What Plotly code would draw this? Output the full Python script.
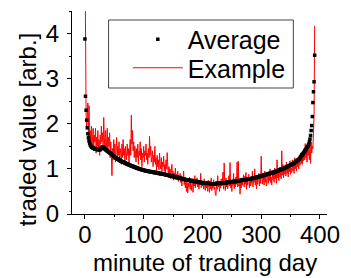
import plotly.graph_objects as go

# ---------------- data ----------------
average = [
    3.88, 2.61, 2.30, 2.08, 1.91, 1.78, 1.69, 1.62, 1.57, 1.53,
    1.51, 1.49, 1.48, 1.47, 1.46, 1.46, 1.45, 1.45, 1.44, 1.44,
    1.44, 1.43, 1.43, 1.43, 1.42, 1.42, 1.43, 1.44, 1.46, 1.48,
    1.49, 1.49, 1.48, 1.46, 1.44, 1.43, 1.42, 1.41, 1.40, 1.39,
    1.38,
    1.37, 1.36, 1.35, 1.34, 1.33, 1.32, 1.31, 1.30, 1.28, 1.27,
    1.26, 1.25, 1.24, 1.23, 1.22, 1.22, 1.21, 1.20, 1.19, 1.18,
    1.17, 1.17, 1.16, 1.16, 1.15, 1.15, 1.14, 1.13, 1.13, 1.12,
    1.11, 1.11, 1.10, 1.10, 1.09, 1.08, 1.08, 1.07, 1.07, 1.06,
    1.06, 1.05, 1.05, 1.04, 1.04, 1.03, 1.03, 1.02, 1.02, 1.01,
    1.01, 1.00, 1.00, 0.99, 0.99, 0.99, 0.98, 0.98, 0.97, 0.97,
    0.97, 0.96, 0.96, 0.96, 0.95, 0.95, 0.95, 0.95, 0.94, 0.94,
    0.94, 0.94, 0.93, 0.93, 0.93, 0.93, 0.92, 0.92, 0.92, 0.92,
    0.92, 0.91, 0.91, 0.91, 0.90, 0.90, 0.90, 0.90, 0.89, 0.89,
    0.89, 0.89, 0.88, 0.88, 0.88, 0.88, 0.87, 0.87, 0.87, 0.87,
    0.86, 0.86, 0.86, 0.85, 0.85, 0.85, 0.84, 0.84, 0.84, 0.83,
    0.83, 0.83, 0.82, 0.82, 0.82, 0.81, 0.81, 0.81, 0.80, 0.80,
    0.80, 0.79, 0.79, 0.79, 0.78, 0.78, 0.78, 0.77, 0.77, 0.77,
    0.76, 0.76, 0.76, 0.76, 0.75, 0.75, 0.75, 0.75, 0.74, 0.74,
    0.74, 0.74, 0.73, 0.73, 0.73, 0.73, 0.72, 0.72, 0.72, 0.72,
    0.71, 0.71, 0.71, 0.71, 0.70, 0.70, 0.70, 0.70, 0.69, 0.69,
    0.69, 0.69, 0.69, 0.69, 0.68, 0.68, 0.68, 0.68, 0.68, 0.68,
    0.68, 0.68, 0.67, 0.67, 0.67, 0.67, 0.67, 0.67, 0.67, 0.67,
    0.67, 0.67, 0.67, 0.68, 0.68, 0.68, 0.68, 0.68, 0.68, 0.68,
    0.68, 0.68, 0.69, 0.69, 0.69, 0.69, 0.69, 0.69, 0.69, 0.69,
    0.70, 0.70, 0.70, 0.70, 0.70, 0.71, 0.71, 0.71, 0.71, 0.71,
    0.71, 0.72, 0.72, 0.72, 0.72, 0.72, 0.73, 0.73, 0.73, 0.73,
    0.73, 0.74, 0.74, 0.74, 0.74, 0.75, 0.75, 0.75, 0.75, 0.75,
    0.76, 0.76, 0.76, 0.76, 0.76, 0.77, 0.77, 0.77, 0.77, 0.77,
    0.78, 0.78, 0.78, 0.79, 0.79, 0.79, 0.80, 0.80, 0.80, 0.81,
    0.81, 0.81, 0.82, 0.82, 0.82, 0.83, 0.83, 0.83, 0.84, 0.84,
    0.84, 0.85, 0.85, 0.86, 0.86, 0.86, 0.87, 0.87, 0.88, 0.88,
    0.88, 0.89, 0.89, 0.90, 0.90, 0.90, 0.91, 0.91, 0.92, 0.92,
    0.92, 0.93, 0.93, 0.94, 0.94, 0.95, 0.95, 0.96, 0.96, 0.97,
    0.97, 0.98, 0.98, 0.99, 0.99, 1.00, 1.00, 1.01, 1.01, 1.02,
    1.03, 1.03, 1.04, 1.05, 1.05, 1.06, 1.07, 1.07, 1.08, 1.09,
    1.09, 1.10, 1.11, 1.11, 1.12,
    1.13, 1.14, 1.15, 1.16, 1.17, 1.18, 1.19, 1.20, 1.21, 1.22,
    1.24, 1.26, 1.28, 1.30, 1.32, 1.33, 1.35, 1.37,
    1.39, 1.41, 1.43, 1.45, 1.47, 1.49, 1.52, 1.55,
    1.60, 1.66, 1.74, 1.85, 1.96, 2.16, 2.47, 2.71, 2.93, 3.52,
]

example = [
    6.00, 3.45, 2.20, 1.90, 2.35, 2.46, 1.70, 2.40, 1.60,
    1.85, 1.55, 1.95, 1.45, 1.80, 1.90, 1.40, 1.75, 1.60, 1.90, 1.35, 1.70,
    1.50, 1.85, 1.40, 1.65, 1.30, 1.75, 1.55, 1.95, 1.60, 1.80, 1.50, 2.14,
    1.70, 1.45, 1.85, 1.40, 1.60, 1.90, 1.35, 1.70, 1.50, 1.80, 1.25, 1.60, 1.30,
    0.85,
    1.45, 1.20, 1.65, 1.35, 1.55, 1.15, 1.40, 1.70, 1.25, 1.50, 1.30, 1.60, 1.20, 1.45,
    1.35, 1.10, 1.55, 1.25, 1.65, 1.30, 1.45, 1.15, 1.50, 1.35, 1.20, 1.55, 1.30, 1.45, 1.12, 1.40,
    1.65, 1.30, 2.19, 1.55, 1.85, 1.40, 1.60, 1.25, 1.50,
    1.35, 1.15, 1.45, 1.25, 1.55, 1.10, 1.40, 1.30, 1.60, 1.20,
    1.45, 1.05, 1.35, 1.25, 1.50, 1.15, 1.40, 1.30, 1.55, 1.20,
    1.35, 1.10, 1.45, 1.25, 1.72, 1.30, 1.50, 1.15,
    1.25, 1.40, 1.05, 1.30, 1.15, 1.50, 1.10, 1.25, 0.95, 1.30,
    1.05, 1.20, 0.98, 1.35, 1.10, 1.00, 1.25, 0.92, 1.15, 1.05,
    1.28, 0.95, 1.10, 0.90, 1.20, 1.00, 1.36,
    0.95, 0.80, 1.05, 0.85, 1.00, 0.78, 0.92, 1.10, 0.82, 0.95,
    0.75, 0.90, 0.85, 1.02, 0.76, 0.88, 0.80, 0.95, 0.72, 0.86,
    0.78, 0.90, 0.70, 0.85, 0.62, 0.80, 0.72, 0.95, 0.65, 0.78,
    0.58, 0.75, 0.50, 0.70, 0.47, 0.68, 0.60, 0.82, 0.55, 0.74,
    0.52, 0.66, 0.78, 0.48, 0.70, 0.62, 0.85, 0.58, 0.72, 0.66,
    0.80, 0.60, 0.75, 0.55, 0.70, 0.64, 0.90, 0.58, 0.72, 0.62,
    0.70, 0.55, 0.78, 0.60, 0.52, 0.72, 0.58, 0.66, 0.50, 0.75,
    0.62, 0.48, 0.70, 0.56, 0.80, 0.52, 0.64, 0.58, 0.76, 0.55,
    0.60, 0.45, 0.41, 0.68, 0.55, 0.85, 0.60, 0.72, 0.50, 0.66,
    0.58, 0.78, 0.62, 0.70, 0.93, 0.55, 1.13, 0.66, 0.52, 0.80,
    0.60, 0.74, 0.56, 0.70, 0.85, 0.62, 1.14, 0.58, 0.76, 0.50,
    0.72, 0.64, 0.90, 0.56, 0.70, 0.60, 0.82, 0.66, 1.15, 0.60,
    1.17, 0.62, 0.75, 0.44, 0.70, 0.58, 0.80, 0.64, 0.76, 0.87,
    0.60, 0.84, 0.66, 0.92, 0.55, 0.78, 0.64, 0.72, 0.88, 0.58,
    0.80, 0.62, 0.75, 0.68, 0.95, 0.60, 0.82, 0.70, 1.00, 0.64,
    0.78, 0.56, 0.86, 0.66, 0.74, 0.90, 0.62, 0.80, 0.68, 1.28,
    0.82, 0.66, 0.90, 0.72, 0.64, 0.95, 0.70, 0.84, 0.62, 0.78,
    0.92, 0.68, 0.86, 0.74, 1.00, 0.70, 0.82, 0.64, 0.90, 0.76,
    0.88, 0.70, 1.02, 0.78, 0.94, 0.68, 1.20, 0.80, 0.92, 0.74,
    1.04, 0.82, 0.96, 0.78, 1.40, 0.86, 1.10, 0.80, 0.98, 0.88,
    1.06, 0.84, 1.15, 0.90, 1.00, 0.82, 1.08, 0.94, 1.18, 0.88,
    1.02, 0.92, 1.20, 0.96, 1.10, 0.90, 1.25, 1.00, 1.12, 0.95,
    1.22, 1.05, 1.15, 1.00, 1.30, 1.08, 1.35, 1.12, 1.26, 1.10,
    1.40, 1.18, 1.45, 1.20, 1.56, 1.25, 1.38, 1.15, 1.50, 1.30,
    1.42, 1.20, 1.55, 1.12, 1.60, 1.35, 1.50, 1.45, 1.70, 2.20, 4.17,
]

minutes_avg = list(range(len(average)))
minutes_ex = list(range(len(example)))

x_ticks = [0, 100, 200, 300, 400]
y_ticks = [0, 1, 2, 3, 4]

FONT = "Liberation Sans, Arial, sans-serif"

# plot area in pixels: left 72, right 337, top 11, bottom 214
PL, PR, PT, PB = 72, 337, 11, 214
def px_x(p):
    return (p - PL) / (PR - PL)
def px_y(p):
    return (PB - p) / (PB - PT)

fig = go.Figure()
fig.add_trace(go.Scatter(
    x=minutes_ex, y=example, mode="lines", name="Example",
    line=dict(color="#ff0000", width=1), legend="legend2",
))
fig.add_trace(go.Scatter(
    x=minutes_avg, y=average, mode="markers", name="Average",
    marker=dict(symbol="square", size=3.5, color="black", line=dict(width=0)),
    legend="legend",
))

xr = [-22, 412]
yr = [0, 4.5]

leg_common = dict(
    xanchor="left", yanchor="middle",
    bgcolor="rgba(0,0,0,0)", borderwidth=0, itemwidth=50,
    font=dict(family=FONT, size=25, color="black"),
)

fig.update_layout(
    width=351, height=278,
    margin=dict(l=PL, r=351 - PR, t=PT, b=278 - PB),
    paper_bgcolor="white", plot_bgcolor="white",
    font=dict(family=FONT, size=24, color="black"),
    showlegend=True,
    legend=dict(x=px_x(130), y=px_y(39.5), **leg_common),
    legend2=dict(x=px_x(130), y=px_y(68), **leg_common),
    xaxis=dict(
        range=xr, tickvals=x_ticks, ticks="outside", ticklen=4, tickwidth=1,
        tickcolor="black", showline=True, linecolor="black", linewidth=1,
        showgrid=False, zeroline=False, tickfont=dict(size=24),
        ticklabelstandoff=-5,
        minor=dict(dtick=50, tick0=0, ticks="outside", ticklen=2, tickcolor="black", showgrid=False),
    ),
    yaxis=dict(
        range=yr, tickvals=y_ticks, ticks="outside", ticklen=4, tickwidth=1,
        tickcolor="black", showline=True, linecolor="black", linewidth=1,
        showgrid=False, zeroline=False, tickfont=dict(size=24),
        ticklabelstandoff=3,
        minor=dict(dtick=0.5, tick0=0, ticks="outside", ticklen=2, tickcolor="black", showgrid=False),
    ),
    xaxis2=dict(
        overlaying="x", side="top", anchor="y", range=xr, dtick=50, tick0=0,
        ticks="inside", ticklen=4, tickcolor="black", showticklabels=False,
        showline=True, linecolor="black", linewidth=1, showgrid=False, zeroline=False,
    ),
    yaxis2=dict(
        overlaying="y", side="right", anchor="x", range=yr, dtick=0.5, tick0=0,
        ticks="inside", ticklen=4, tickcolor="black", showticklabels=False,
        showline=True, linecolor="black", linewidth=1, showgrid=False, zeroline=False,
    ),
    shapes=[dict(
        type="rect", xref="paper", yref="paper",
        x0=px_x(110), x1=px_x(302), y0=px_y(88), y1=px_y(20),
        line=dict(color="#444444", width=1), fillcolor="white", layer="above",
    )],
    annotations=[
        dict(text="minute of trading day", xref="paper", yref="paper",
             x=px_x(210.5), y=px_y(278), xanchor="center", yanchor="bottom",
             showarrow=False, font=dict(family=FONT, size=24, color="black")),
        dict(text="traded value [arb.]", xref="paper", yref="paper",
             x=px_x(26), y=px_y(129.5), xanchor="center", yanchor="middle",
             textangle=-90, showarrow=False,
             font=dict(family=FONT, size=24, color="black")),
    ],
)

fig.write_html(
    "out.html",
    config={"displayModeBar": False},
    post_script="document.body.style.margin='0px';document.body.style.overflow='hidden';",
)
